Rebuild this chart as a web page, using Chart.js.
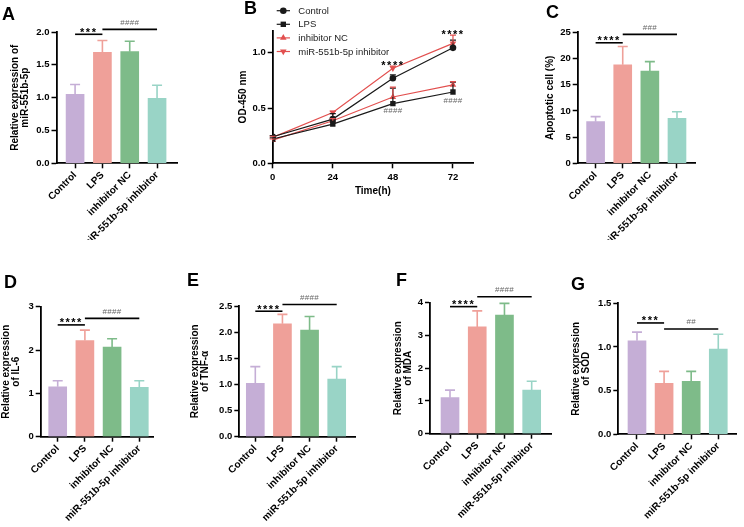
<!DOCTYPE html>
<html><head><meta charset="utf-8">
<script src="https://cdn.jsdelivr.net/npm/chart.js@4.4.1/dist/chart.umd.min.js"></script>
<style>
html,body{margin:0;padding:0;background:#fff;}
#wrap{position:relative;width:744px;height:527px;overflow:hidden;background:#fff;}
canvas{position:absolute;}
.lab{position:absolute;font:bold 18px Arial,'Liberation Sans',sans-serif;color:#000;line-height:18px;}
</style></head><body>
<div id="wrap">
<canvas id="cA" width="200" height="240" style="left:0;top:0"></canvas>
<canvas id="cB" width="330" height="240" style="left:200px;top:0"></canvas>
<canvas id="cC" width="214" height="240" style="left:530px;top:0"></canvas>
<canvas id="cD" width="185" height="277" style="left:0;top:250px"></canvas>
<canvas id="cE" width="185" height="277" style="left:185px;top:250px"></canvas>
<canvas id="cF" width="185" height="277" style="left:370px;top:250px"></canvas>
<canvas id="cG" width="189" height="277" style="left:555px;top:250px"></canvas>
<div class="lab" style="left:2px;top:5px">A</div>
<div class="lab" style="left:244px;top:-1px">B</div>
<div class="lab" style="left:546px;top:3px">C</div>
<div class="lab" style="left:4px;top:273px">D</div>
<div class="lab" style="left:187px;top:271px">E</div>
<div class="lab" style="left:396px;top:271px">F</div>
<div class="lab" style="left:571px;top:275px">G</div>
</div>
<script>
// ---------- data ----------
const categories = ['Control', 'LPS', 'inhibitor NC', 'miR-551b-5p inhibitor'];

const mirMeans = [1.05, 1.69, 1.70, 0.99];
const mirErrors = [0.15, 0.18, 0.16, 0.20];
const mirTicks = [0, 0.5, 1.0, 1.5, 2.0];

const apoMeans = [7.95, 18.8, 17.6, 8.6];
const apoErrors = [0.95, 3.5, 1.8, 1.25];
const apoTicks = [0, 5, 10, 15, 20, 25];

const il6Means = [1.15, 2.22, 2.07, 1.14];
const il6Errors = [0.14, 0.24, 0.19, 0.15];
const il6Ticks = [0, 1, 2, 3];

const tnfMeans = [1.02, 2.16, 2.04, 1.10];
const tnfErrors = [0.32, 0.18, 0.26, 0.24];
const tnfTicks = [0, 0.5, 1.0, 1.5, 2.0, 2.5];

const mdaMeans = [1.10, 3.26, 3.62, 1.33];
const mdaErrors = [0.23, 0.49, 0.36, 0.27];
const mdaTicks = [0, 1, 2, 3, 4];

const sodMeans = [1.07, 0.585, 0.607, 0.977];
const sodErrors = [0.10, 0.135, 0.113, 0.168];
const sodTicks = [0, 0.5, 1.0, 1.5];

const timePoints = [0, 24, 48, 72];
const timeTicks = [0, 24, 48, 72];
const odTicks = [0, 0.5, 1.0];
const odNames = ['Control', 'LPS', 'inhibitor NC', 'miR-551b-5p inhibitor'];
const odControl = [0.24, 0.40, 0.77, 1.045];
const odLPS = [0.22, 0.355, 0.54, 0.645];
const odNC = [0.21, 0.385, 0.60, 0.71];
const odInhibitor = [0.235, 0.46, 0.86, 1.085];
const odControlErr = [0.01, 0.05, 0.03, 0.07];
const odLPSErr = [0.01, 0.02, 0.14, 0.09];
const odNCErr = [0.01, 0.02, 0.09, 0.03];
const odInhibitorErr = [0.01, 0.01, 0.02, 0.075];

// significance marks (group indices / bracket heights in axis units)
const mirSig = [{from: 0, to: 1, y: 1.965, text: '***'}, {from: 1, to: 3, y: 2.04, text: '####'}];
const apoSig = [{from: 0, to: 1, y: 23.0, text: '****'}, {from: 1, to: 3, y: 24.6, text: '###'}];
const il6Sig = [{from: 0, to: 1, y: 2.58, text: '****'}, {from: 1, to: 3, y: 2.73, text: '####'}];
const tnfSig = [{from: 0, to: 1, y: 2.40, text: '****'}, {from: 1, to: 3, y: 2.53, text: '####'}];
const mdaSig = [{from: 0, to: 1, y: 3.88, text: '****'}, {from: 1, to: 3, y: 4.18, text: '####'}];
const sodSig = [{from: 0, to: 1, y: 1.275, text: '***'}, {from: 1, to: 3, y: 1.206, text: '##'}];
const odSig = [{x: 48, y: 0.91, text: '****'}, {x: 72, y: 1.196, text: '****'}, {x: 48, y: 0.482, text: '####'}, {x: 72, y: 0.572, text: '####'}];

// ---------- styling / helpers ----------
const FONT = "Arial, 'Liberation Sans', Helvetica, sans-serif";
Chart.defaults.font.family = FONT;
Chart.defaults.color = '#000';
const barColors = ['#c5aed6', '#efa099', '#7ebb89', '#99d4c6'];

function drawSig(ctx, text, cx, cy) {
  const star = text.indexOf('*') >= 0;
  const fs = star ? 11 : 8;
  ctx.font = (star ? 'bold ' : '') + fs + 'px ' + FONT;
  ctx.fillStyle = star ? '#000' : '#666';
  ctx.textAlign = 'center';
  ctx.textBaseline = 'alphabetic';
  if ('letterSpacing' in ctx) ctx.letterSpacing = star ? '1.5px' : '0.3px';
  ctx.fillText(text, cx, cy + (star ? 0.58 : 0.36) * fs);
  if ('letterSpacing' in ctx) ctx.letterSpacing = '0px';
}

function makeSigPlugin(items) {
  return {
    id: 'sigMarks',
    afterDraw(chart) {
      const ctx = chart.ctx, xs = chart.scales.x, ys = chart.scales.y;
      ctx.save();
      items.forEach(it => {
        const yp = ys.getPixelForValue(it.y);
        if (it.from !== undefined) {
          const x0 = xs.getPixelForValue(it.from), x1 = xs.getPixelForValue(it.to);
          ctx.strokeStyle = '#000'; ctx.lineWidth = 1.6;
          ctx.beginPath(); ctx.moveTo(x0, yp); ctx.lineTo(x1, yp); ctx.stroke();
          const star = it.text.indexOf('*') >= 0;
          drawSig(ctx, it.text, (x0 + x1) / 2, yp - (star ? 5 : 7.5));
        } else {
          drawSig(ctx, it.text, xs.getPixelForValue(it.x), yp);
        }
      });
      ctx.restore();
    }
  };
}

const errorBarPlugin = {
  id: 'errBars',
  afterDatasetsDraw(chart) {
    const ctx = chart.ctx, ys = chart.scales.y;
    ctx.save();
    chart.data.datasets.forEach((ds, di) => {
      if (!ds.errors) return;
      const meta = chart.getDatasetMeta(di);
      meta.data.forEach((el, i) => {
        const d = ds.data[i];
        const v = (typeof d === 'object') ? d.y : d;
        const top = ys.getPixelForValue(v + ds.errors[i]);
        const col = Array.isArray(ds.errColor) ? ds.errColor[i] : ds.errColor;
        const cap = ds.capWidth;
        ctx.strokeStyle = col; ctx.lineWidth = ds.errWidth || 1.5;
        ctx.beginPath();
        ctx.moveTo(el.x, el.y); ctx.lineTo(el.x, top);
        ctx.moveTo(el.x - cap / 2, top); ctx.lineTo(el.x + cap / 2, top);
        ctx.stroke();
      });
    });
    ctx.restore();
  }
};

function axisCommon() {
  return {
    grid: {display: true, drawOnChartArea: false, drawTicks: true, tickLength: 5, tickColor: '#000', tickWidth: 1.5},
    border: {display: true, color: '#000', width: 1.8}
  };
}

function makeBar(id, means, errors, ticks, dec, title, geo, sig) {
  const ax = axisCommon(), ay = axisCommon();
  new Chart(document.getElementById(id), {
    type: 'bar',
    data: {datasets: [{
      data: means.map((v, i) => ({x: i, y: v})),
      errors: errors, errColor: barColors, capWidth: 10, errWidth: 1.6,
      backgroundColor: barColors, borderWidth: 0, barThickness: 18
    }]},
    options: {
      responsive: false, animation: false,
      layout: {padding: {left: geo.padL, right: geo.padR, top: geo.padT, bottom: 0}},
      plugins: {legend: {display: false}, tooltip: {enabled: false}},
      scales: {
        x: {type: 'linear', min: geo.xMin, max: geo.xMax, offset: false,
            afterBuildTicks: s => { s.ticks = categories.map((c, i) => ({value: i})); },
            afterFit: s => { s.height = geo.xH; },
            ticks: {autoSkip: false, minRotation: 45, maxRotation: 45, padding: 1,
                    font: {size: 10, weight: 'bold'}, color: '#000',
                    callback: v => categories[v]},
            grid: Object.assign({}, ax.grid, {offset: false}), border: ax.border},
        y: {min: 0, max: ticks[ticks.length - 1],
            afterBuildTicks: s => { s.ticks = ticks.map(v => ({value: v})); },
            afterFit: s => { s.width = geo.yW; },
            ticks: {font: {size: 9.5, weight: 'bold'}, color: '#000', padding: 2,
                    callback: v => Number(v).toFixed(dec)},
            grid: ay.grid, border: ay.border,
            title: {display: true, text: title, color: '#000', padding: 0,
                    font: {size: 10, weight: 'bold', lineHeight: 1}}}
      }
    },
    plugins: [errorBarPlugin, makeSigPlugin(sig)]
  });
}

makeBar('cA', mirMeans, mirErrors, mirTicks, 1, ['Relative expression of', 'miR-551b-5p'],
  {padL: 10.3, yW: 46.2, padR: 23, padT: 32, xH: 76.7, xMin: -0.68, xMax: 3.73}, mirSig);
makeBar('cC', apoMeans, apoErrors, apoTicks, 0, 'Apoptotic cell (%)',
  {padL: 15, yW: 32.7, padR: 48.3, padT: 32.3, xH: 76.7, xMin: -0.66, xMax: 3.69}, apoSig);
makeBar('cD', il6Means, il6Errors, il6Ticks, 0, ['Relative expression', 'of IL-6'],
  {padL: 1, yW: 39.7, padR: 31.7, padT: 56.7, xH: 90.3, xMin: -0.625, xMax: 3.515}, il6Sig);
makeBar('cE', tnfMeans, tnfErrors, tnfTicks, 1, ['Relative expression', 'of TNF-α'],
  {padL: 5, yW: 49.3, padR: 14.3, padT: 56, xH: 90.3, xMin: -0.59, xMax: 3.70}, tnfSig);
makeBar('cF', mdaMeans, mdaErrors, mdaTicks, 0, ['Relative expression', 'of MDA'],
  {padL: 23.3, yW: 36.7, padR: 3.3, padT: 52.7, xH: 93.3, xMin: -0.735, xMax: 3.735}, mdaSig);
makeBar('cG', sodMeans, sodErrors, sodTicks, 1, ['Relative expression', 'of SOD'],
  {padL: 16.7, yW: 46.6, padR: 7.3, padT: 53.3, xH: 92.7, xMin: -0.69, xMax: 3.68}, sodSig);

// ---------- panel B ----------
const BLACK = '#1a1a1a', RED = '#e2504f';
function drawMarker(ctx, style, rot, x, y, r) {
  ctx.beginPath();
  if (style === 'circle') {
    ctx.arc(x, y, r, 0, Math.PI * 2);
  } else if (style === 'rect') {
    const s = Math.SQRT1_2 * r;
    ctx.rect(x - s, y - s, 2 * s, 2 * s);
  } else {
    let rad = (rot || 0) * Math.PI / 180;
    ctx.moveTo(x + Math.sin(rad) * r, y - Math.cos(rad) * r);
    rad += 2 * Math.PI / 3;
    ctx.lineTo(x + Math.sin(rad) * r, y - Math.cos(rad) * r);
    rad += 2 * Math.PI / 3;
    ctx.lineTo(x + Math.sin(rad) * r, y - Math.cos(rad) * r);
    ctx.closePath();
  }
  ctx.fill();
}
const odLegendPlugin = {
  id: 'odLegend',
  afterDraw(chart) {
    const ctx = chart.ctx;
    ctx.save();
    chart.data.datasets.forEach((ds, i) => {
      const y = 10.7 + i * 13.6;
      ctx.strokeStyle = ds.borderColor; ctx.lineWidth = 1.2;
      ctx.beginPath(); ctx.moveTo(76.7, y); ctx.lineTo(90, y); ctx.stroke();
      ctx.fillStyle = ds.backgroundColor;
      drawMarker(ctx, ds.pointStyle, ds.pointRotation, 83.3, y, ds.pointRadius);
      ctx.fillStyle = '#222'; ctx.font = '9.5px ' + FONT;
      ctx.textAlign = 'left'; ctx.textBaseline = 'middle';
      ctx.fillText(ds.label, 98.3, y + 0.5);
    });
    ctx.restore();
  }
};
function odSet(name, vals, errs, color, style, rot, radius) {
  return {label: name, data: timePoints.map((t, i) => ({x: t, y: vals[i]})), errors: errs,
    errColor: color, capWidth: 6, errWidth: 1.2,
    borderColor: color, backgroundColor: color, borderWidth: 1.2,
    pointStyle: style, pointRotation: rot, pointRadius: radius, pointBorderWidth: 0,
    pointBackgroundColor: color, tension: 0, fill: false};
}
(function () {
  const ax = axisCommon(), ay = axisCommon();
  new Chart(document.getElementById('cB'), {
    type: 'line',
    data: {datasets: [
      odSet(odNames[0], odControl, odControlErr, BLACK, 'circle', 0, 3.3),
      odSet(odNames[1], odLPS, odLPSErr, BLACK, 'rect', 0, 3.8),
      odSet(odNames[2], odNC, odNCErr, RED, 'triangle', 0, 3.8),
      odSet(odNames[3], odInhibitor, odInhibitorErr, RED, 'triangle', 180, 3.8)
    ]},
    options: {
      responsive: false, animation: false,
      layout: {padding: {left: 38.3, right: 57, top: 30.7, bottom: 43.3}},
      plugins: {legend: {display: false}, tooltip: {enabled: false}},
      scales: {
        x: {type: 'linear', min: 0, max: 80,
            afterBuildTicks: s => { s.ticks = timeTicks.map(v => ({value: v})); },
            afterFit: s => { s.height = 33.4; },
            ticks: {font: {size: 9.5, weight: 'bold'}, color: '#000', padding: 3, maxRotation: 0},
            grid: ax.grid, border: ax.border,
            title: {display: true, text: 'Time(h)', color: '#000', padding: 0,
                    font: {size: 10, weight: 'bold', lineHeight: 1}}},
        y: {min: 0, max: 1.2,
            afterBuildTicks: s => { s.ticks = odTicks.map(v => ({value: v})); },
            afterFit: s => { s.width = 34.4; },
            ticks: {font: {size: 9.5, weight: 'bold'}, color: '#000', padding: 2,
                    callback: v => Number(v).toFixed(1)},
            grid: ay.grid, border: ay.border,
            title: {display: true, text: 'OD-450 nm', color: '#000', padding: 0,
                    font: {size: 10, weight: 'bold', lineHeight: 1}}}
      }
    },
    plugins: [errorBarPlugin, makeSigPlugin(odSig), odLegendPlugin]
  });
})();
</script>
</body></html>
